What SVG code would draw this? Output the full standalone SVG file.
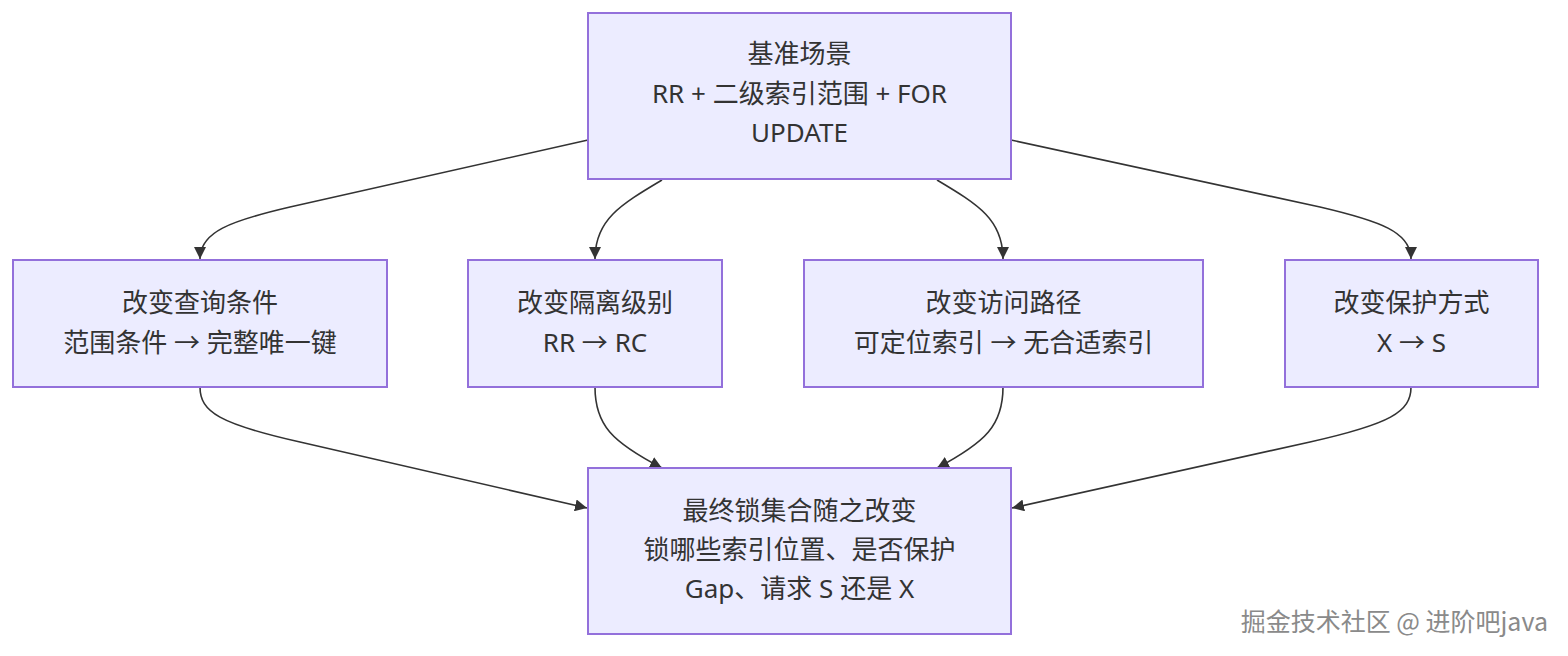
<svg xmlns="http://www.w3.org/2000/svg" width="1568" height="656" viewBox="0 0 1568 656">
<style>
.node rect{fill:#ECECFF;stroke:#9370DB;stroke-width:2}
.node text{font-family:"Noto Sans","Noto Sans CJK SC",sans-serif;font-size:26px;fill:#333;text-anchor:middle}
.edges path{fill:none;stroke:#333;stroke-width:1.6}
.wm{font-family:"Noto Sans CJK SC",sans-serif;font-size:25px;text-anchor:end}
</style>
<defs>
<marker id="arr" viewBox="0 0 10 10" refX="10" refY="5" markerWidth="12" markerHeight="12" markerUnits="userSpaceOnUse" orient="auto">
<path d="M0,0 L10,5 L0,10 z" fill="#333"/>
</marker>
</defs>
<rect width="1568" height="656" fill="#fff"/>
<g class="edges">
<path d="M588,140 L290,207 C230,221 200,232 200,259" marker-end="url(#arr)"/>
<path d="M662,180 C620,205 595,220 595,259" marker-end="url(#arr)"/>
<path d="M937,180 C979,205 1003,220 1003,259" marker-end="url(#arr)"/>
<path d="M1011,140 L1320,207 C1380,221 1411,232 1411,259" marker-end="url(#arr)"/>
<path d="M200,387 C200,412 220,424 300,442 L587,508" marker-end="url(#arr)"/>
<path d="M595,387 C595,425 612,442 662,468" marker-end="url(#arr)"/>
<path d="M1003,387 C1003,425 986,442 937,468" marker-end="url(#arr)"/>
<path d="M1411,387 C1411,412 1390,424 1310,442 L1012,508" marker-end="url(#arr)"/>
</g>
<g class="node" id="base">
<rect x="588" y="13" width="423" height="166"/>
<text x="799.5" y="63">基准场景</text>
<text x="799.5" y="103">RR + 二级索引范围 + FOR</text>
<text x="799.5" y="142">UPDATE</text>
</g>
<g class="node" id="query">
<rect x="13" y="260" width="374" height="127"/>
<text x="200" y="312">改变查询条件</text>
<text x="200" y="352">范围条件 → 完整唯一键</text>
</g>
<g class="node" id="iso">
<rect x="468" y="260" width="254" height="127"/>
<text x="595" y="312">改变隔离级别</text>
<text x="595" y="352">RR → RC</text>
</g>
<g class="node" id="path">
<rect x="804" y="260" width="399" height="127"/>
<text x="1003.5" y="312">改变访问路径</text>
<text x="1003.5" y="352">可定位索引 → 无合适索引</text>
</g>
<g class="node" id="mode">
<rect x="1285" y="260" width="253" height="127"/>
<text x="1411.5" y="312">改变保护方式</text>
<text x="1411.5" y="352">X → S</text>
</g>
<g class="node" id="result">
<rect x="588" y="468" width="423" height="166"/>
<text x="799.5" y="520">最终锁集合随之改变</text>
<text x="799.5" y="559">锁哪些索引位置、是否保护</text>
<text x="799.5" y="598">Gap、请求 S 还是 X</text>
</g>
<text class="wm" x="1549" y="632" fill="#ffffff">掘金技术社区 @ 进阶吧java</text>
<text class="wm" x="1548" y="631" fill="#8a8a8a">掘金技术社区 @ 进阶吧java</text>
</svg>
